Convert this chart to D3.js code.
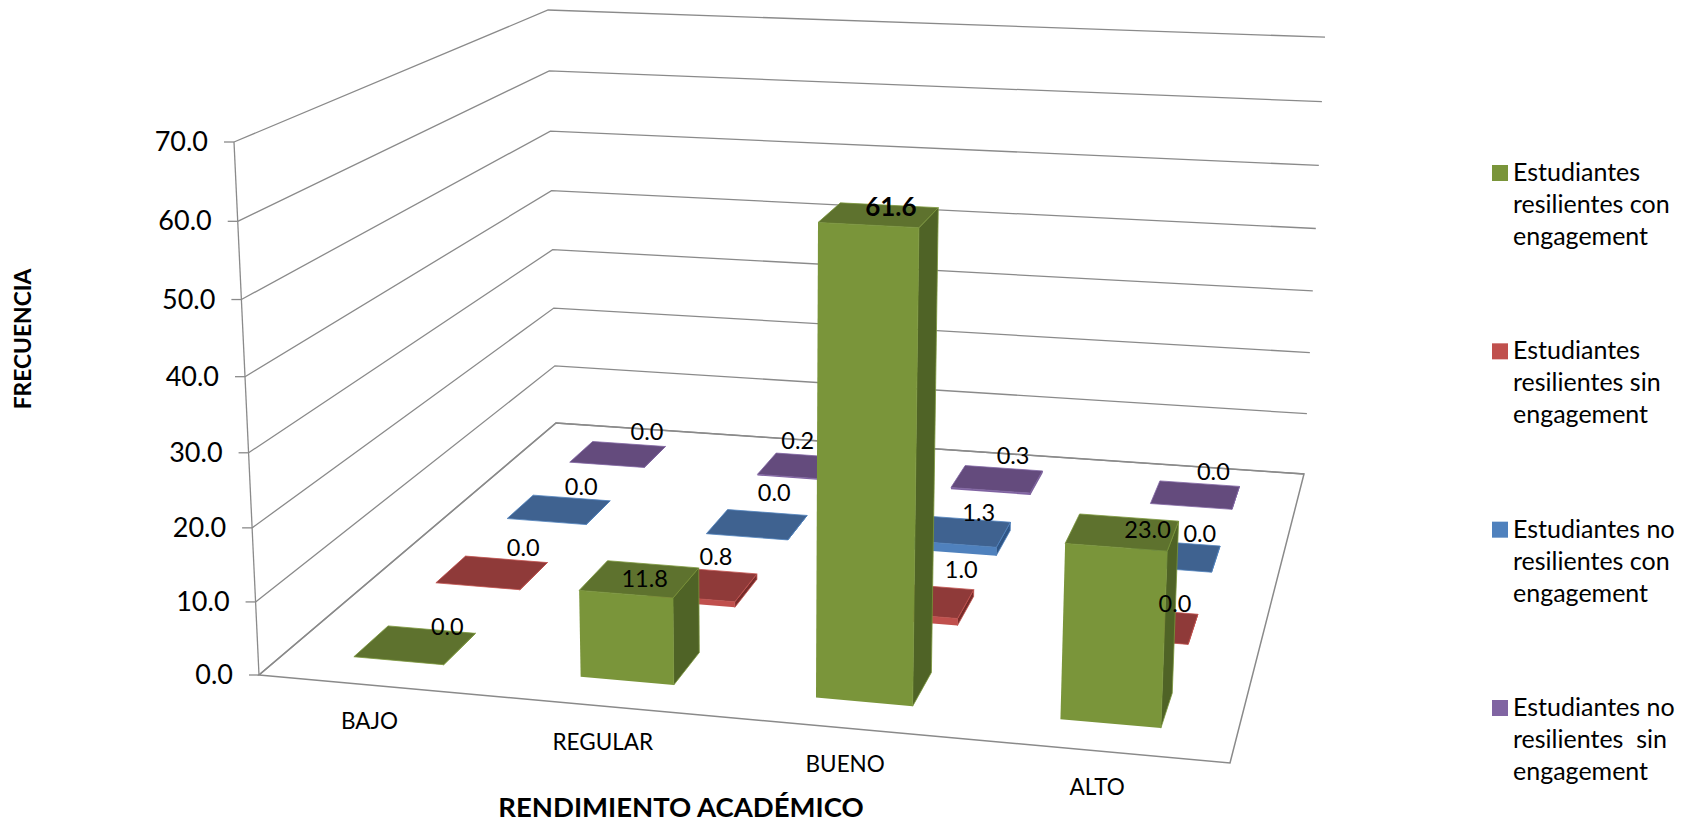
<!DOCTYPE html>
<html>
<head>
<meta charset="utf-8">
<title>Rendimiento académico</title>
<script src="https://cdn.jsdelivr.net/npm/d3@7"></script>
<style>
  html, body { margin: 0; padding: 0; background: #fff; }
  text { font-family: Lato, "Open Sans", sans-serif; fill: #000; }
</style>
</head>
<body>
<script>
// data
const categories = ["BAJO", "REGULAR", "BUENO", "ALTO"];
const seriesNames = [
  "Estudiantes resilientes con engagement",
  "Estudiantes resilientes sin engagement",
  "Estudiantes no resilientes con engagement",
  "Estudiantes no resilientes sin engagement",
];
const resilientesCon = [0.0, 11.8, 61.6, 23.0];
const resilientesSin = [0.0, 0.8, 1.0, 0.0];
const noResilientesCon = [0.0, 0.0, 1.3, 0.0];
const noResilientesSin = [0.0, 0.2, 0.3, 0.0];
const seriesValues = [resilientesCon, resilientesSin, noResilientesCon, noResilientesSin];
const legendLines = [
  ["Estudiantes", "resilientes con", "engagement"],
  ["Estudiantes", "resilientes sin", "engagement"],
  ["Estudiantes no", "resilientes con", "engagement"],
  ["Estudiantes no", "resilientes  sin", "engagement"],
];

// front, top and side colour per series
const palette = [
  { front: "#7a953a", top: "#5e722e", side: "#4f6326" },
  { front: "#c0504d", top: "#8f3a39", side: "#772c2a" },
  { front: "#4f81bd", top: "#3f6290", side: "#2f5585" },
  { front: "#8064a2", top: "#644b7d", side: "#4f3b66" },
];

const width = 1688;
const height = 824;
const svg = d3.select("body").append("svg").attr("width", width).attr("height", height);

// corners of the chart box on screen
const O = [259, 675]; // front left, floor
const A = [1230, 763]; // front right, floor
const B = [556, 423]; // back left, floor
const D = [1304, 474]; // back right, floor
const C = [234, 142]; // front left, top of the axis
const E = [548, 10]; // back left, top of the axis

const det3 = (m) =>
  m[0][0] * (m[1][1] * m[2][2] - m[1][2] * m[2][1]) -
  m[0][1] * (m[1][0] * m[2][2] - m[1][2] * m[2][0]) +
  m[0][2] * (m[1][0] * m[2][1] - m[1][1] * m[2][0]);

// a*A + b*B - t*D = O in homogeneous coords
const base = det3([[A[0], B[0], -D[0]], [A[1], B[1], -D[1]], [1, 1, -1]]);
const wa = det3([[O[0], B[0], -D[0]], [O[1], B[1], -D[1]], [1, 1, -1]]) / base;
const wb = det3([[A[0], O[0], -D[0]], [A[1], O[1], -D[1]], [1, 1, -1]]) / base;
const wc = (wb * B[1] - O[1] - E[1] * (wb - 1)) / (E[1] - C[1]);

// box coords (u along categories, v into depth, w up) to screen
const project = (u, v, w) => {
  const k = 1 + u * (wa - 1) + v * (wb - 1) + w * (wc - 1);
  return [
    (O[0] + u * (wa * A[0] - O[0]) + v * (wb * B[0] - O[0]) + w * (wc * C[0] - O[0])) / k,
    (O[1] + u * (wa * A[1] - O[1]) + v * (wb * B[1] - O[1]) + w * (wc * C[1] - O[1])) / k,
  ];
};

const xScale = d3.scaleBand().domain(d3.range(categories.length)).range([0, 1]).paddingInner(0.6).paddingOuter(0.3);
const zScale = d3.scaleBand().domain(d3.range(seriesNames.length)).range([0, 1]).paddingInner(0.6).paddingOuter(0.3);
const yScale = d3.scaleLinear().domain([0, 70]).range([0, 1]);
const line = d3.line();
const gridColor = "#8a8a8a";

// back walls
const grid = svg.append("g");
grid.selectAll(".grid")
  .data(yScale.ticks(7))
  .enter()
  .append("path")
  .attr("class", "grid")
  .attr("fill", "none")
  .attr("stroke", gridColor)
  .attr("stroke-width", 1.3)
  .attr("d", (t) => line([project(0, 0, yScale(t)), project(0, 1, yScale(t)), project(1, 1, yScale(t))]));

// floor outline
grid.append("path")
  .attr("fill", "none")
  .attr("stroke", gridColor)
  .attr("stroke-width", 1.5)
  .attr("d", line([project(0, 0, 0), project(1, 0, 0), project(1, 1, 0), project(0, 1, 0)]) + "Z");

// value axis
grid.append("path")
  .attr("fill", "none")
  .attr("stroke", gridColor)
  .attr("stroke-width", 1.3)
  .attr("d", line([project(0, 0, 0), project(0, 0, 1)]));

const tick = svg.append("g").selectAll(".tick").data(yScale.ticks(7)).enter().append("g").attr("class", "tick");
tick.append("path")
  .attr("stroke", gridColor)
  .attr("stroke-width", 1.3)
  .attr("d", (t) => {
    const p = project(0, 0, yScale(t));
    return line([[p[0] - 10, p[1]], p]);
  });
tick.append("text")
  .attr("x", (t) => project(0, 0, yScale(t))[0] - 26)
  .attr("y", (t) => project(0, 0, yScale(t))[1] + 9)
  .attr("text-anchor", "end")
  .attr("font-size", 27)
  .text((t) => d3.format(".1f")(t));

// bars, back row first
const bars = [];
seriesValues.forEach((values, s) => {
  values.forEach((value, c) => bars.push({ s, c, value }));
});
bars.sort((a, b) => b.s - a.s || a.c - b.c);

const bar = svg.append("g").selectAll(".bar").data(bars).enter().append("g").attr("class", "bar");
const box = (d) => {
  const u0 = xScale(d.c);
  const u1 = u0 + xScale.bandwidth();
  const v0 = zScale(d.s);
  const v1 = v0 + zScale.bandwidth();
  return { u0, u1, v0, v1, h: yScale(d.value) };
};
const face = (points) => line(points) + "Z";

bar.append("path")
  .attr("fill", (d) => palette[d.s].side)
  .attr("stroke", (d) => palette[d.s].front)
  .attr("stroke-width", 0.8)
  .attr("d", (d) => {
    const b = box(d);
    return face([project(b.u1, b.v0, 0), project(b.u1, b.v1, 0), project(b.u1, b.v1, b.h), project(b.u1, b.v0, b.h)]);
  });
bar.append("path")
  .attr("fill", (d) => palette[d.s].front)
  .attr("d", (d) => {
    const b = box(d);
    return face([project(b.u0, b.v0, 0), project(b.u1, b.v0, 0), project(b.u1, b.v0, b.h), project(b.u0, b.v0, b.h)]);
  });
bar.append("path")
  .attr("fill", (d) => palette[d.s].top)
  .attr("stroke", (d) => palette[d.s].front)
  .attr("stroke-width", 0.8)
  .attr("d", (d) => {
    const b = box(d);
    return face([project(b.u0, b.v0, b.h), project(b.u1, b.v0, b.h), project(b.u1, b.v1, b.h), project(b.u0, b.v1, b.h)]);
  });

// labels were placed by hand in the source chart, so each has its own nudge
const labelDx = [
  [32, 5, 12, 25],
  [31, 13, 40, 28],
  [22, 17, 17, 27],
  [29, -7, 16, 18],
];
const labelDy = [
  [-18, 0, -7, -2],
  [-25, -27, -30, -21],
  [-23, -31, -19, -22],
  [-22, -25, -23, -23],
];
svg.append("g").selectAll(".label")
  .data(bars)
  .enter()
  .append("text")
  .attr("class", "label")
  .attr("text-anchor", "middle")
  .attr("font-size", (d) => (d.value > 60 ? 26 : 23.5))
  .attr("font-weight", (d) => (d.value > 60 ? 700 : 400))
  .attr("x", (d) => {
    const b = box(d);
    return project((b.u0 + b.u1) / 2, (b.v0 + b.v1) / 2, b.h)[0] + labelDx[d.s][d.c];
  })
  .attr("y", (d) => {
    const b = box(d);
    return project((b.u0 + b.u1) / 2, (b.v0 + b.v1) / 2, b.h)[1] + labelDy[d.s][d.c] + 8;
  })
  .text((d) => d3.format(".1f")(d.value));

// category labels under the floor
svg.append("g").selectAll(".cat")
  .data(categories)
  .enter()
  .append("text")
  .attr("class", "cat")
  .attr("text-anchor", "middle")
  .attr("font-size", 22.5)
  .attr("x", (d, i) => project(xScale(i) + xScale.bandwidth() / 2, 0, 0)[0] - 3)
  .attr("y", (d, i) => project(xScale(i) + xScale.bandwidth() / 2, 0, 0)[1] + 44)
  .text((d) => d);

// axis titles
svg.append("text")
  .attr("text-anchor", "middle")
  .attr("font-size", 27.5)
  .attr("font-weight", 700)
  .attr("x", 681)
  .attr("y", 817)
  .text("RENDIMIENTO ACADÉMICO");
svg.append("text")
  .attr("text-anchor", "middle")
  .attr("font-size", 22.8)
  .attr("font-weight", 700)
  .attr("transform", "translate(31,339) rotate(-90)")
  .text("FRECUENCIA");

// legend
const legendRow = d3.scalePoint().domain(d3.range(seriesNames.length)).range([181, 716]);
const legend = svg.append("g").selectAll(".legend")
  .data(legendLines)
  .enter()
  .append("g")
  .attr("class", "legend")
  .attr("transform", (d, i) => `translate(1492, ${legendRow(i)})`);
legend.append("rect")
  .attr("y", -16)
  .attr("width", 16)
  .attr("height", 16)
  .attr("fill", (d, i) => palette[i].front);
legend.append("text")
  .attr("font-size", 25)
  .selectAll("tspan")
  .data((d) => d)
  .enter()
  .append("tspan")
  .attr("x", 21)
  .attr("y", (d, i) => i * 32)
  .attr("xml:space", "preserve")
  .style("white-space", "pre")
  .text((d) => d);
</script>
</body>
</html>
